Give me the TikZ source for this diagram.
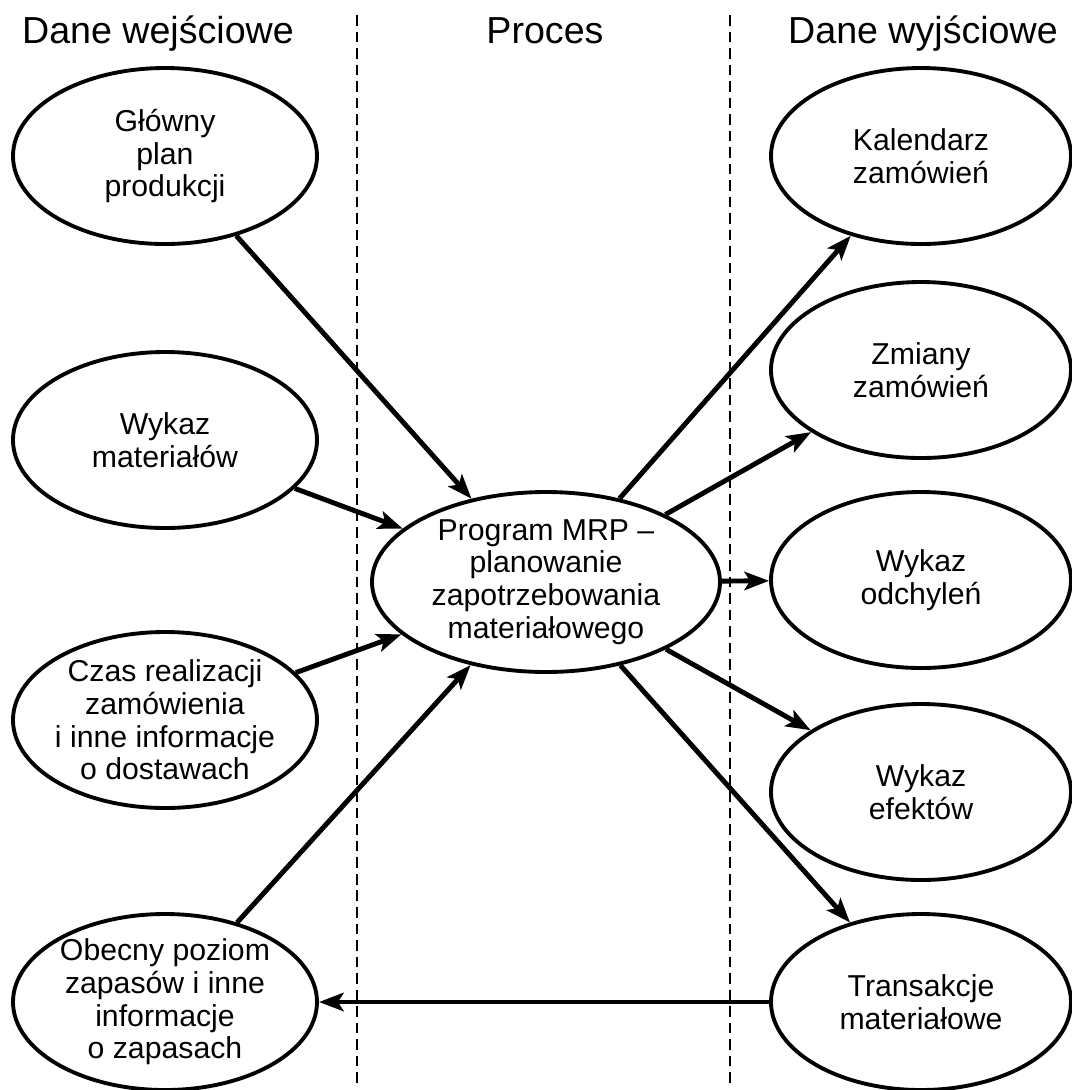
\documentclass[tikz,border=0pt]{standalone}
\usepackage{fontspec}
\setmainfont{Liberation Sans}
\usetikzlibrary{arrows.meta,shapes.geometric}
\begin{document}
\begin{tikzpicture}[x=1cm,y=-1cm,
  blob/.style={ellipse,draw,line width=1.1pt,inner xsep=-.25cm,inner ysep=-.1cm,minimum width=3.04cm,minimum height=1.76cm,align=center,font=\fontsize{8.6}{9.3}\selectfont},
  flow/.style={-{Stealth[length=7pt,width=5.2pt,inset=1.6pt]},line width=1.4pt},
  head/.style={anchor=base,font=\fontsize{10.7}{12}\selectfont},
  divider/.style={dash pattern=on 3pt off 1.7pt,line width=.5pt}]
        \useasboundingbox (0,0) rectangle (10.72,10.90);
        \node[head] (hin) at (1.58,.43) {Dane wejściowe};
        \node[head] (hproc) at (5.45,.43) {Proces};
        \node[head] (hout) at (9.23,.43) {Dane wyjściowe};
        \draw[divider] (3.57,.15) -- (3.57,10.84);
        \draw[divider] (7.30,.15) -- (7.30,10.84);
        \foreach \n/\y/\txt in {glowny/1.56/{Główny\\plan\\produkcji},wykaz/4.40/{Wykaz\\materiałów},czas/7.20/{Czas realizacji\\zamówienia\\i inne informacje\\o dostawach},obecny/10.02/{Obecny poziom\\zapasów i inne\\informacje\\o zapasach}}
          \node[blob] (\n) at (1.65,\y) {\txt};
        \foreach \n/\y/\txt in {kal/1.56/{Kalendarz\\zamówień},zmiany/3.70/{Zmiany\\zamówień},odch/5.80/{Wykaz\\odchyleń},efekt/7.92/{Wykaz\\efektów},trans/10.02/{Transakcje\\materiałowe}}
          \node[blob,minimum width=3cm] (\n) at (9.21,\y) {\txt};
        \node[blob,minimum width=3.48cm,minimum height=1.8cm] (mrp) at (5.46,5.82) {Program MRP –\\planowanie\\zapotrzebowania\\materiałowego};
        \foreach \n in {glowny,wykaz,czas,obecny}
          \draw[flow] (\n) -- (mrp);
        \foreach \n in {kal,zmiany,odch,efekt,trans}
          \draw[flow] (mrp) -- (\n);
        \draw[flow] (trans) -- (obecny);
      \end{tikzpicture}
\end{document}
